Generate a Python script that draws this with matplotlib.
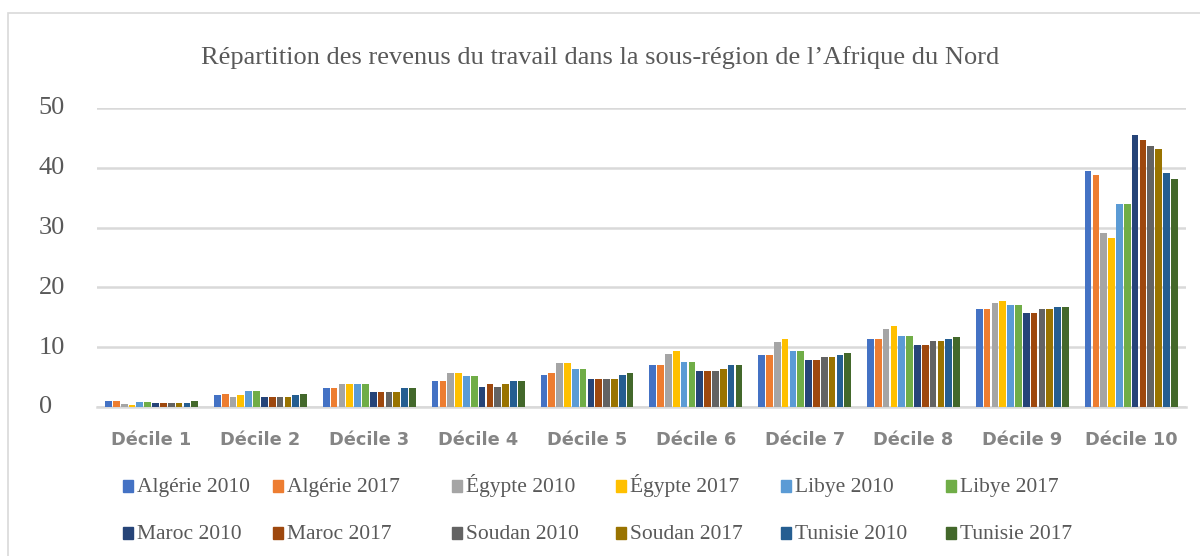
import numpy as np
import matplotlib
matplotlib.use('Agg')
import matplotlib.pyplot as plt
import matplotlib.transforms as mtransforms
from matplotlib.patches import Rectangle

# données (% des revenus du travail par décile)
deciles = ['Décile 1', 'Décile 2', 'Décile 3', 'Décile 4', 'Décile 5',
           'Décile 6', 'Décile 7', 'Décile 8', 'Décile 9', 'Décile 10']

series_names = ['Algérie 2010', 'Algérie 2017', 'Égypte 2010', 'Égypte 2017',
                'Libye 2010', 'Libye 2017', 'Maroc 2010', 'Maroc 2017',
                'Soudan 2010', 'Soudan 2017', 'Tunisie 2010', 'Tunisie 2017']

algerie_2010 = [1.0, 2.0, 3.2, 4.4, 5.4, 7.0, 8.7, 11.3, 16.3, 39.4]
algerie_2017 = [1.0, 2.2, 3.2, 4.4, 5.7, 7.0, 8.7, 11.3, 16.3, 38.8]
egypte_2010 = [0.5, 1.7, 3.8, 5.7, 7.3, 8.9, 10.9, 13.1, 17.3, 29.1]
egypte_2017 = [0.4, 2.0, 3.8, 5.7, 7.3, 9.3, 11.3, 13.6, 17.7, 28.3]
libye_2010 = [0.9, 2.6, 3.8, 5.1, 6.4, 7.6, 9.4, 11.9, 17.0, 34.0]
libye_2017 = [0.9, 2.6, 3.8, 5.1, 6.4, 7.6, 9.4, 11.9, 17.0, 34.0]
maroc_2010 = [0.7, 1.7, 2.5, 3.4, 4.7, 6.0, 7.8, 10.3, 15.7, 45.5]
maroc_2017 = [0.7, 1.7, 2.5, 3.8, 4.7, 6.0, 7.8, 10.3, 15.7, 44.6]
soudan_2010 = [0.7, 1.7, 2.5, 3.4, 4.7, 6.0, 8.4, 11.0, 16.3, 43.6]
soudan_2017 = [0.7, 1.7, 2.5, 3.8, 4.7, 6.4, 8.4, 11.0, 16.3, 43.2]
tunisie_2010 = [0.7, 2.0, 3.2, 4.4, 5.3, 7.0, 8.7, 11.3, 16.7, 39.1]
tunisie_2017 = [1.0, 2.2, 3.2, 4.4, 5.7, 7.0, 9.0, 11.7, 16.7, 38.1]

values = [algerie_2010, algerie_2017, egypte_2010, egypte_2017,
          libye_2010, libye_2017, maroc_2010, maroc_2017,
          soudan_2010, soudan_2017, tunisie_2010, tunisie_2017]

colors = ['#4472C4', '#ED7D31', '#A5A5A5', '#FFC000', '#5B9BD5', '#70AD47',
          '#264478', '#9E480E', '#636363', '#997300', '#255E91', '#43682B']

serif = 'Liberation Serif'
gris = '#595959'

fig = plt.figure(figsize=(12, 5.56), dpi=100)
ax = fig.add_axes([0.081, 0.268, 0.907, 0.538])

x = np.arange(len(deciles))
slot = 0.072
for i, (name, vals) in enumerate(zip(series_names, values)):
    offs = (i - 5.5) * slot
    ax.bar(x + offs, vals, width=slot * 0.86, color=colors[i], label=name, zorder=3)

ax.set_xlim(-0.5, len(deciles) - 0.5)
ax.set_ylim(0, 50)
ax.set_yticks([0, 10, 20, 30, 40, 50])
ax.set_yticklabels(['0', '10', '20', '30', '40', '50'], fontfamily=serif,
                   fontsize=19, color=gris)
ax.set_xticks(x)
ax.set_xticklabels(deciles, fontsize=12.8, fontweight='bold', color='#858585')
ax.tick_params(axis='y', length=0, pad=42)
ax.tick_params(axis='x', length=0, pad=17)
# étiquettes y alignées à gauche, un peu au-dessus des lignes
up = mtransforms.ScaledTranslation(0, 2 / 100, fig.dpi_scale_trans)
for lab in ax.get_yticklabels():
    lab.set_horizontalalignment('left')
    lab.set_transform(lab.get_transform() + up)
ax.grid(axis='y', color='#D9D9D9', linewidth=1.8, zorder=0)
for s in ['top', 'right', 'left']:
    ax.spines[s].set_visible(False)
ax.spines['bottom'].set_color('#D9D9D9')
ax.spines['bottom'].set_linewidth(1.8)

fig.text(0.5, 0.897, 'Répartition des revenus du travail dans la sous-région de l\u2019Afrique du Nord',
         ha='center', va='center', fontfamily=serif, fontsize=19, color=gris)

# légende sur deux lignes
col_x = [123, 273, 452, 616, 781, 946]
row_y = [486, 533]
for i, name in enumerate(series_names):
    px = col_x[i % 6]
    py = row_y[i // 6]
    fig.patches.append(Rectangle((px / 1200, 1 - (py + 6) / 556), 10 / 1200, 12 / 556,
                                 transform=fig.transFigure, color=colors[i]))
    fig.text((px + 14) / 1200, 1 - (py + 6) / 556, name, ha='left', va='baseline',
             fontfamily=serif, fontsize=15.5, color=gris)

# cadre du graphique
fig.patches.append(Rectangle((8 / 1200, -0.01), 1.1, 1 - 13 / 556 + 0.01,
                             transform=fig.transFigure, fill=False,
                             edgecolor='#D9D9D9', linewidth=1.2))

fig.savefig('out.png', dpi=100)
